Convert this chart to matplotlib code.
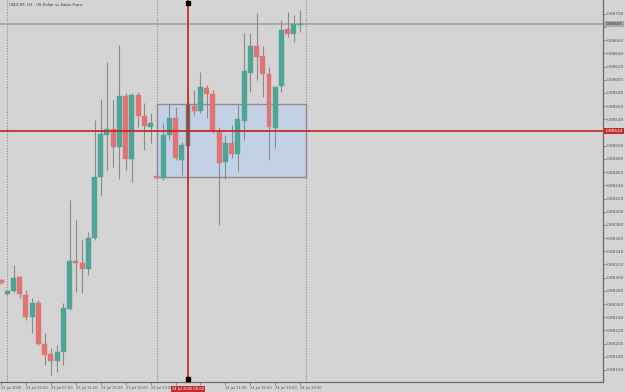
import matplotlib
matplotlib.use("Agg")
import matplotlib.pyplot as plt
import numpy as np
from matplotlib.patches import Rectangle

title = "USDCHF, H1:  US Dollar vs Swiss Franc"

opens = [0.88296, 0.88275, 0.88280, 0.88301, 0.88274, 0.88241, 0.88261, 0.88199, 0.88184, 0.88174,
         0.88187, 0.88253, 0.88325, 0.88322, 0.88313, 0.88360, 0.88453, 0.88516, 0.88525, 0.88498,
         0.88575, 0.88480, 0.88577, 0.88545, 0.88529, 0.88454, 0.88451, 0.88516, 0.88542, 0.88478,
         0.88500, 0.88560, 0.88553, 0.88588, 0.88579, 0.88521, 0.88476, 0.88504, 0.88488, 0.88538,
         0.88610, 0.88652, 0.88636, 0.88609, 0.88527, 0.88590, 0.88677, 0.88669, 0.88683]
highs = [0.88298, 0.88282, 0.88319, 0.88303, 0.88281, 0.88269, 0.88266, 0.88216, 0.88193, 0.88198,
         0.88262, 0.88418, 0.88387, 0.88357, 0.88369, 0.88539, 0.88571, 0.88627, 0.88569, 0.88653,
         0.88580, 0.88580, 0.88581, 0.88565, 0.88550, 0.88455, 0.88535, 0.88562, 0.88559, 0.88506,
         0.88585, 0.88585, 0.88612, 0.88592, 0.88585, 0.88529, 0.88516, 0.88531, 0.88562, 0.88671,
         0.88671, 0.88701, 0.88651, 0.88620, 0.88590, 0.88691, 0.88703, 0.88698, 0.88706]
lows = [0.88290, 0.88273, 0.88278, 0.88269, 0.88236, 0.88216, 0.88198, 0.88168, 0.88152, 0.88157,
        0.88168, 0.88251, 0.88279, 0.88277, 0.88304, 0.88357, 0.88424, 0.88463, 0.88468, 0.88450,
        0.88463, 0.88445, 0.88529, 0.88493, 0.88504, 0.88450, 0.88448, 0.88509, 0.88478, 0.88456,
        0.88498, 0.88547, 0.88550, 0.88542, 0.88519, 0.88380, 0.88449, 0.88481, 0.88461, 0.88509,
        0.88582, 0.88600, 0.88574, 0.88478, 0.88497, 0.88582, 0.88665, 0.88658, 0.88673]
closes = [0.88292, 0.88280, 0.88300, 0.88275, 0.88241, 0.88262, 0.88199, 0.88183, 0.88174, 0.88187,
          0.88254, 0.88325, 0.88322, 0.88313, 0.88360, 0.88453, 0.88518, 0.88525, 0.88498, 0.88575,
          0.88480, 0.88577, 0.88545, 0.88530, 0.88534, 0.88451, 0.88516, 0.88542, 0.88481, 0.88501,
          0.88562, 0.88553, 0.88589, 0.88579, 0.88521, 0.88474, 0.88504, 0.88488, 0.88541, 0.88614,
          0.88652, 0.88635, 0.88609, 0.88528, 0.88589, 0.88676, 0.88669, 0.88685, 0.88685]

# labels every 4 bars; the two under the crosshair date badge are hidden
time_labels = ["22 Jul 2026", "23 Jul 03:00", "23 Jul 07:00", "23 Jul 11:00", "23 Jul 15:00",
               "23 Jul 19:00", "23 Jul 23:00", "", "", "24 Jul 11:00",
               "24 Jul 15:00", "24 Jul 19:00", "24 Jul 23:00"]
price_ticks = [round(0.88160 + 0.0002 * k, 5) for k in range(28)]

current_price = 0.88685
cross_price = 0.88522
cross_label = "24 Jul 2026 05:00"
rect_low, rect_high = 0.88452, 0.88563

BG = "#d4d4d4"
GREEN = "#4fa595"
RED = "#e27373"
WICK = "#8a8a8a"
LINE_RED = "#c0302a"
YMIN, YMAX = 0.881418, 0.887210

fig = plt.figure(figsize=(6.25, 3.92), dpi=100, facecolor=BG)
ax = fig.add_axes([0.0, 10 / 392, 603 / 625, 382 / 392], facecolor=BG)

n = len(opens)
x = np.arange(n) - 1  # first candle partially off the left edge
sel = 29  # candle under the crosshair

ax.set_xlim(-1.17, 95.6)
ax.set_ylim(YMIN, YMAX)

ax.add_patch(Rectangle((24, rect_low), 23.9, rect_high - rect_low,
                       facecolor="#c3d1e6", edgecolor="#8c8c8c", lw=1.0, zorder=1))

for d in (0, 24, 47.9):
    ax.axvline(d, color="#8a8a8a", lw=0.8, ls=(0, (1, 1.5)), zorder=1.5)

ax.axhline(current_price, color="#a8a8a8", lw=1.4, zorder=1.6)

o = np.array(opens); c = np.array(closes); h = np.array(highs); l = np.array(lows)
cols = [GREEN if cc >= oo else RED for oo, cc in zip(o, c)]
cols[sel + 1] = "#66766f"
ax.vlines(x, l, h, color=WICK, lw=0.8, zorder=2)
bottoms = np.minimum(o, c)
heights = np.maximum(np.abs(c - o), 0.000012)
ax.bar(x, heights, bottom=bottoms, width=0.8, color=cols, edgecolor=cols, lw=0.3, zorder=3)

ax.axhline(cross_price, color=LINE_RED, lw=1.3, zorder=4)
ax.axvline(sel, color=LINE_RED, lw=1.3, zorder=4)
ax.plot([sel, sel], [0.887165, 0.881460], ls="none", marker="s", ms=2.6, color="black",
        zorder=5, clip_on=False)

for s in ("top", "left"):
    ax.spines[s].set_visible(False)
for s in ("right", "bottom"):
    ax.spines[s].set_color("#6a6a6a")
    ax.spines[s].set_linewidth(0.9)

ax.yaxis.tick_right()
ax.set_yticks(price_ticks)
hidden = {0.88520, 0.88680}
ax.set_yticklabels(["" if p in hidden else f"{p:.5f}" for p in price_ticks])
ax.tick_params(axis="y", length=2, width=0.5, pad=1, labelsize=3.1, colors="#6a6a6a",
               labelcolor="#555555")

xt = [-1 + 4 * k for k in range(len(time_labels))]
ax.set_xticks(xt)
ax.set_xticklabels(time_labels, ha="left")
ax.tick_params(axis="x", length=2, width=0.5, pad=1, labelsize=2.6, colors="#6a6a6a",
               labelcolor="#555555")

ax.text(1.004, (current_price - YMIN) / (YMAX - YMIN), f"{current_price:.5f}",
        transform=ax.transAxes, fontsize=3.1, color="#333333", va="center", ha="left",
        bbox=dict(boxstyle="square,pad=0.25", fc="#a9a9a9", ec="none"), zorder=6)
ax.text(1.004, (cross_price - YMIN) / (YMAX - YMIN), f"{cross_price:.5f}",
        transform=ax.transAxes, fontsize=3.1, color="white", va="center", ha="left",
        bbox=dict(boxstyle="square,pad=0.25", fc=LINE_RED, ec="none"), zorder=6)
ax.annotate(cross_label, xy=(sel, 0), xycoords=("data", "axes fraction"),
            xytext=(0, -5.0), textcoords="offset points", fontsize=2.6, color="white",
            ha="center", va="center", annotation_clip=False,
            bbox=dict(boxstyle="square,pad=0.3", fc=LINE_RED, ec="none"), zorder=6)

fig.text(9 / 625, 1 - 5 / 392, title, fontsize=2.7, color="#333333", va="center", ha="left")

fig.savefig("out.png", dpi=100, facecolor=BG)
